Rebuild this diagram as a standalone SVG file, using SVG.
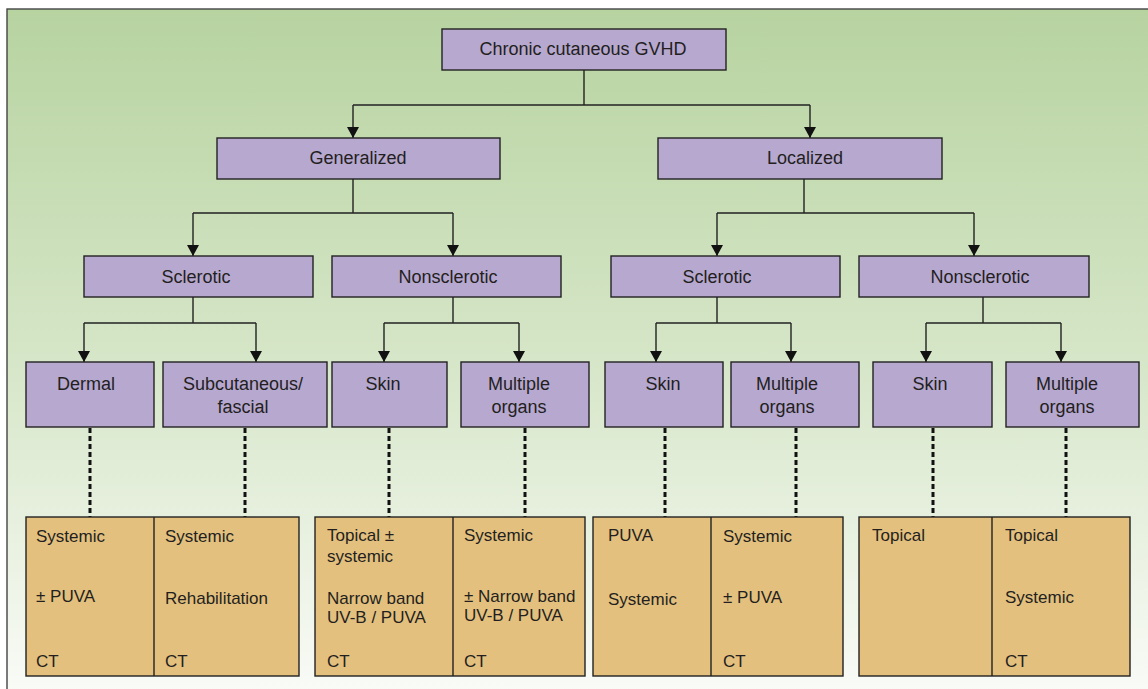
<svg xmlns="http://www.w3.org/2000/svg" width="1148" height="689" viewBox="0 0 1148 689">
<defs>
<linearGradient id="bg" x1="0" y1="0" x2="0" y2="1">
<stop offset="0" stop-color="#b7d3a0"/>
<stop offset="0.5" stop-color="#d6e6c8"/>
<stop offset="1" stop-color="#fbfcf9"/>
</linearGradient>
<marker id="arr" viewBox="0 0 12 12" refX="11" refY="6" markerWidth="12" markerHeight="12" markerUnits="userSpaceOnUse" orient="auto">
<path d="M0,0 L11,6 L0,12 z" fill="#111"/>
</marker>
<style>
.n rect{fill:#b7a8d0;stroke:#222;stroke-width:1.4}
.b rect{fill:#e4c07e;stroke:#222;stroke-width:1.4}
.b line{stroke:#222;stroke-width:1.4}
text{font-family:"Liberation Sans",Arial,Helvetica,sans-serif;fill:#231f20}
.n text{font-size:18px;text-anchor:middle}
.b text{font-size:17px}
.c path{fill:none;stroke:#222;stroke-width:1.4}
.d line{stroke:#111;stroke-width:3;stroke-dasharray:5 3}
</style>
</defs>
<rect x="0" y="0" width="1148" height="689" fill="#ffffff"/>
<rect x="7" y="9" width="1160" height="700" fill="url(#bg)" stroke="#444" stroke-width="1.4"/>

<g id="connectors" class="c">
<path d="M584,70 V105"/>
<path d="M353,105 H810"/>
<path d="M353,105 V138" marker-end="url(#arr)"/>
<path d="M810,105 V138" marker-end="url(#arr)"/>
<path d="M353,179 V213 M193,213 H453 M804,179 V213 M717,213 H974"/>
<path d="M193,213 V256" marker-end="url(#arr)"/>
<path d="M453,213 V256" marker-end="url(#arr)"/>
<path d="M717,213 V256" marker-end="url(#arr)"/>
<path d="M974,213 V256" marker-end="url(#arr)"/>
<path d="M193,297 V323 M84,323 H256 M453,297 V323 M384,323 H519 M717,297 V323 M656,323 H791 M983,297 V323 M926,323 H1061"/>
<path d="M84,323 V362" marker-end="url(#arr)"/>
<path d="M256,323 V362" marker-end="url(#arr)"/>
<path d="M384,323 V362" marker-end="url(#arr)"/>
<path d="M519,323 V362" marker-end="url(#arr)"/>
<path d="M656,323 V362" marker-end="url(#arr)"/>
<path d="M791,323 V362" marker-end="url(#arr)"/>
<path d="M926,323 V362" marker-end="url(#arr)"/>
<path d="M1061,323 V362" marker-end="url(#arr)"/>
<g class="d">
<line x1="90" y1="428" x2="90" y2="517"/>
<line x1="245" y1="428" x2="245" y2="517"/>
<line x1="389" y1="428" x2="389" y2="517"/>
<line x1="525" y1="428" x2="525" y2="517"/>
<line x1="665" y1="428" x2="665" y2="517"/>
<line x1="796" y1="428" x2="796" y2="517"/>
<line x1="933" y1="428" x2="933" y2="517"/>
<line x1="1066" y1="428" x2="1066" y2="517"/>
</g>
</g>

<g id="root" class="n"><rect x="442" y="29" width="284" height="41"/><text x="583" y="55">Chronic cutaneous GVHD</text></g>
<g id="generalized" class="n"><rect x="217" y="138" width="283" height="41"/><text x="358" y="164">Generalized</text></g>
<g id="localized" class="n"><rect x="658" y="138" width="284" height="41"/><text x="805" y="164">Localized</text></g>

<g id="gen-sclerotic" class="n"><rect x="84" y="256" width="229" height="41"/><text x="196" y="283">Sclerotic</text></g>
<g id="gen-nonsclerotic" class="n"><rect x="332" y="256" width="229" height="41"/><text x="448" y="283">Nonsclerotic</text></g>
<g id="loc-sclerotic" class="n"><rect x="611" y="256" width="229" height="41"/><text x="717" y="283">Sclerotic</text></g>
<g id="loc-nonsclerotic" class="n"><rect x="859" y="256" width="230" height="41"/><text x="980" y="283">Nonsclerotic</text></g>

<g id="dermal" class="n"><rect x="26" y="362" width="128" height="65"/><text x="86" y="390">Dermal</text></g>
<g id="subcutaneous" class="n"><rect x="163" y="362" width="164" height="65"/><text x="243" y="390">Subcutaneous/</text><text x="243" y="413">fascial</text></g>
<g id="gen-skin" class="n"><rect x="332" y="362" width="115" height="65"/><text x="383" y="390">Skin</text></g>
<g id="gen-multiple" class="n"><rect x="461" y="362" width="128" height="65"/><text x="519" y="390">Multiple</text><text x="519" y="413">organs</text></g>
<g id="loc-skin" class="n"><rect x="605" y="362" width="118" height="65"/><text x="663" y="390">Skin</text></g>
<g id="loc-multiple" class="n"><rect x="731" y="362" width="128" height="65"/><text x="787" y="390">Multiple</text><text x="787" y="413">organs</text></g>
<g id="non-skin" class="n"><rect x="873" y="362" width="119" height="65"/><text x="930" y="390">Skin</text></g>
<g id="non-multiple" class="n"><rect x="1006" y="362" width="133" height="65"/><text x="1067" y="390">Multiple</text><text x="1067" y="413">organs</text></g>

<g id="box1" class="b"><rect x="26" y="517" width="273" height="159"/><line x1="154" y1="517" x2="154" y2="676"/>
<text x="36" y="542">Systemic</text><text x="36" y="602">± PUVA</text><text x="36" y="667">CT</text>
<text x="165" y="542">Systemic</text><text x="165" y="604">Rehabilitation</text><text x="165" y="667">CT</text></g>
<g id="box2" class="b"><rect x="315" y="517" width="270" height="159"/><line x1="453" y1="517" x2="453" y2="676"/>
<text x="327" y="541">Topical ±</text><text x="327" y="562">systemic</text><text x="327" y="604">Narrow band</text><text x="327" y="623">UV-B / PUVA</text><text x="327" y="667">CT</text>
<text x="464" y="541">Systemic</text><text x="464" y="602">± Narrow band</text><text x="464" y="621">UV-B / PUVA</text><text x="464" y="667">CT</text></g>
<g id="box3" class="b"><rect x="593" y="517" width="250" height="159"/><line x1="711" y1="517" x2="711" y2="676"/>
<text x="608" y="541">PUVA</text><text x="608" y="605">Systemic</text>
<text x="723" y="542">Systemic</text><text x="723" y="603">± PUVA</text><text x="723" y="667">CT</text></g>
<g id="box4" class="b"><rect x="859" y="517" width="271" height="159"/><line x1="992" y1="517" x2="992" y2="676"/>
<text x="872" y="541">Topical</text>
<text x="1005" y="541">Topical</text><text x="1005" y="603">Systemic</text><text x="1005" y="667">CT</text></g>
</svg>
